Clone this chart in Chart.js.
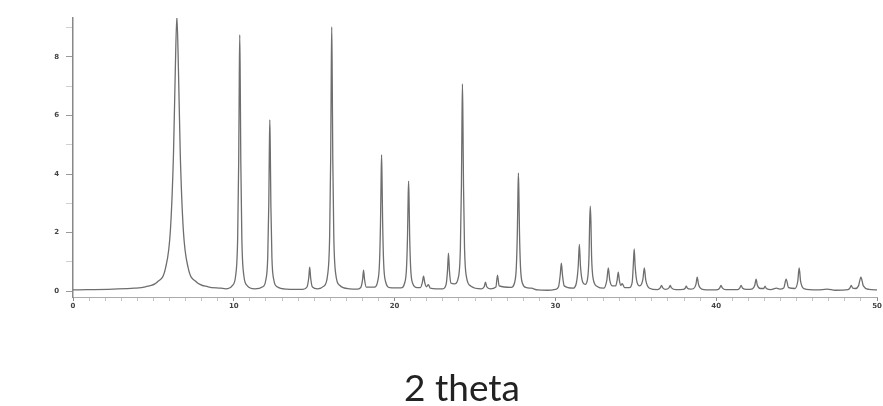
<!DOCTYPE html>
<html>
<head>
<meta charset="utf-8">
<script src="https://cdn.jsdelivr.net/npm/chart.js@4.4.1/dist/chart.umd.min.js"></script>
<style>
  html, body { margin: 0; padding: 0; background: #fff; }
</style>
</head>
<body>
<canvas id="xrdChart" width="883" height="406"></canvas>
<script>
// pattern, 2 theta vs intensity
const twoTheta = [
  0, 2.5, 3.8, 4.5, 5.26, 5.76, 6.06, 6.25, 6.36, 6.46, 6.56, 6.67, 6.86, 7.16, 7.66, 8.4, 9.2,
  9.5, 9.92, 10.12, 10.24, 10.305, 10.34, 10.37, 10.40, 10.435, 10.5, 10.62, 10.82, 11.3,
  11.8, 11.99, 12.11, 12.175, 12.21, 12.24, 12.27, 12.305, 12.37, 12.49, 12.69, 13.3,
  14.3, 14.55, 14.66, 14.72, 14.78, 14.89, 15.2,
  15.6, 15.84, 15.96, 16.025, 16.06, 16.09, 16.12, 16.155, 16.22, 16.34, 16.58, 17.2,
  17.7, 17.9, 18.01, 18.07, 18.13, 18.24,
  18.75, 18.94, 19.06, 19.125, 19.16, 19.19, 19.22, 19.255, 19.32, 19.44, 19.7,
  20.4, 20.62, 20.74, 20.805, 20.84, 20.87, 20.9, 20.935, 21.0, 21.12, 21.4,
  21.6, 21.72, 21.8, 21.88, 21.98, 22.1, 22.22, 22.6,
  23.0, 23.2, 23.29, 23.35, 23.41, 23.5,
  23.72, 23.97, 24.09, 24.155, 24.19, 24.22, 24.25, 24.285, 24.35, 24.47, 24.75,
  25.4, 25.57, 25.65, 25.73, 25.95,
  26.3, 26.4, 26.5,
  27.25, 27.45, 27.57, 27.635, 27.67, 27.7, 27.73, 27.765, 27.83, 27.95, 28.2,
  28.5, 28.9, 29.5,
  30.0, 30.2, 30.3, 30.37, 30.44, 30.55,
  31.1, 31.3, 31.42, 31.49, 31.56, 31.7, 31.85,
  32.0, 32.09, 32.13, 32.17, 32.21, 32.25, 32.35, 32.6,
  33.0, 33.2, 33.29, 33.38, 33.55,
  33.75, 33.84, 33.91, 33.98, 34.07, 34.15, 34.3,
  34.6, 34.78, 34.84, 34.9, 34.96, 35.07, 35.25,
  35.44, 35.53, 35.62, 35.85,
  36.35, 36.52, 36.6, 36.68, 36.85,
  37.06, 37.14, 37.22, 37.5,
  37.95, 38.07, 38.14, 38.21, 38.4,
  38.6, 38.74, 38.82, 38.9, 39.1, 39.8,
  40.1, 40.22, 40.3, 40.38, 40.6,
  41.35, 41.47, 41.55, 41.63, 41.9,
  42.25, 42.4, 42.48, 42.56, 42.75,
  42.96, 43.04, 43.12, 43.4,
  43.75, 43.95,
  44.2, 44.35, 44.5,
  44.9, 45.07, 45.16, 45.25, 45.45, 46.3,
  46.9, 47.4,
  48.2, 48.32, 48.4, 48.48, 48.65,
  48.85, 49.0, 49.15, 49.5, 50
];
const intensity = [
  0.04, 0.07, 0.1, 0.15, 0.32, 0.8, 2.1, 4.7, 7.5, 9.4, 7.5, 4.7, 2.1, 0.8, 0.32, 0.15, 0.1,
  0.08, 0.2, 0.55, 1.8, 4.45, 7.2, 8.75, 7.2, 4.45, 1.8, 0.55, 0.2, 0.08,
  0.15, 0.38, 1.15, 2.95, 4.8, 5.85, 4.8, 2.95, 1.15, 0.38, 0.15, 0.07,
  0.06, 0.14, 0.45, 0.82, 0.45, 0.14, 0.08,
  0.17, 0.58, 1.85, 4.55, 7.4, 9.03, 7.4, 4.55, 1.85, 0.58, 0.2, 0.08,
  0.07, 0.13, 0.4, 0.72, 0.4, 0.14,
  0.14, 0.32, 0.95, 2.38, 3.8, 4.65, 3.8, 2.38, 0.95, 0.32, 0.12,
  0.11, 0.27, 0.78, 1.93, 3.1, 3.76, 3.1, 1.93, 0.78, 0.27, 0.12,
  0.12, 0.28, 0.51, 0.28, 0.15, 0.22, 0.1, 0.08,
  0.08, 0.22, 0.7, 1.3, 0.7, 0.28,
  0.25, 0.48, 1.45, 3.6, 5.8, 7.08, 5.8, 3.6, 1.45, 0.48, 0.17,
  0.08, 0.15, 0.31, 0.15, 0.08,
  0.14, 0.55, 0.18,
  0.13, 0.27, 0.82, 2.05, 3.3, 4.03, 3.3, 2.05, 0.82, 0.27, 0.12,
  0.1, 0.04, 0.03,
  0.06, 0.16, 0.55, 0.96, 0.55, 0.18,
  0.1, 0.27, 0.85, 1.6, 0.85, 0.3, 0.23,
  0.42, 1.2, 2.35, 2.9, 2.35, 1.2, 0.42, 0.16,
  0.1, 0.38, 0.79, 0.38, 0.18,
  0.18, 0.38, 0.65, 0.36, 0.2, 0.26, 0.12,
  0.12, 0.32, 0.85, 1.44, 0.85, 0.32, 0.18,
  0.4, 0.79, 0.38, 0.1,
  0.05, 0.11, 0.2, 0.11, 0.06,
  0.11, 0.2, 0.11, 0.05,
  0.06, 0.1, 0.17, 0.1, 0.07,
  0.09, 0.23, 0.48, 0.23, 0.07, 0.04,
  0.05, 0.11, 0.2, 0.11, 0.05,
  0.05, 0.11, 0.2, 0.11, 0.06,
  0.08, 0.2, 0.41, 0.2, 0.09,
  0.09, 0.17, 0.09, 0.05,
  0.1, 0.07,
  0.11, 0.41, 0.12,
  0.09, 0.33, 0.79, 0.33, 0.09, 0.04,
  0.07, 0.03,
  0.05, 0.11, 0.2, 0.11, 0.09,
  0.18, 0.48, 0.18, 0.06, 0.04
];

const xMajor = [0, 10, 20, 30, 40, 50];
const yMajor = [0, 2, 4, 6, 8];
const xTitle = '2 theta';

const points = twoTheta.map((t, i) => ({ x: t, y: intensity[i] }));

// major + minor tick positions
const xTicks = [];
for (let v = 0; v <= 50; v++) xTicks.push({ value: v });
const yTicks = [];
for (let v = 0; v <= 9; v++) yTicks.push({ value: v });

// axis caption sits a little left of the plot centre in the original
const captionPlugin = {
  id: 'caption',
  afterDraw(chart) {
    const c = chart.ctx;
    c.save();
    c.font = '37px Lato';
    c.fillStyle = '#222';
    c.textAlign = 'center';
    c.textBaseline = 'alphabetic';
    c.fillText(xTitle, 462, 401);
    c.restore();
  }
};

const ctx = document.getElementById('xrdChart').getContext('2d');
const chart = new Chart(ctx, {
  type: 'line',
  data: {
    datasets: [{
      label: 'pattern',
      data: points,
      borderColor: '#6e6e6e',
      borderWidth: 1.3,
      pointRadius: 0,
      cubicInterpolationMode: 'monotone',
      fill: false
    }]
  },
  options: {
    responsive: false,
    animation: false,
    layout: { padding: { top: 18, right: 6, left: 0, bottom: 0 } },
    plugins: { legend: { display: false }, tooltip: { enabled: false } },
    scales: {
      x: {
        type: 'linear',
        min: 0,
        max: 50,
        afterBuildTicks: s => { s.ticks = xTicks.slice(); },
        afterFit: s => { s.height = 109; },
        grid: {
          drawOnChartArea: false,
          tickLength: 4,
          color: c => xMajor.includes(c.tick && c.tick.value) ? '#888' : '#c4c4c4'
        },
        border: { color: '#aaa', width: 1 },
        ticks: {
          autoSkip: false,
          maxRotation: 0,
          padding: 1,
          color: '#444',
          font: { family: 'DejaVu Sans', size: 7, weight: 'bold' },
          callback: v => xMajor.includes(v) ? String(v) : ''
        }
      },
      y: {
        type: 'linear',
        min: -0.2,
        max: 9.33,
        afterBuildTicks: s => { s.ticks = yTicks.slice(); },
        afterFit: s => { s.width = 73; },
        grid: {
          drawOnChartArea: false,
          tickLength: 7,
          color: c => yMajor.includes(c.tick && c.tick.value) ? '#999' : '#d0d0d0'
        },
        border: { color: '#888', width: 1.5 },
        ticks: {
          autoSkip: false,
          padding: 7,
          color: '#444',
          font: { family: 'DejaVu Sans', size: 7, weight: 'bold' },
          callback: v => yMajor.includes(v) ? String(v) : ''
        }
      }
    }
  },
  plugins: [captionPlugin]
});
</script>
</body>
</html>
